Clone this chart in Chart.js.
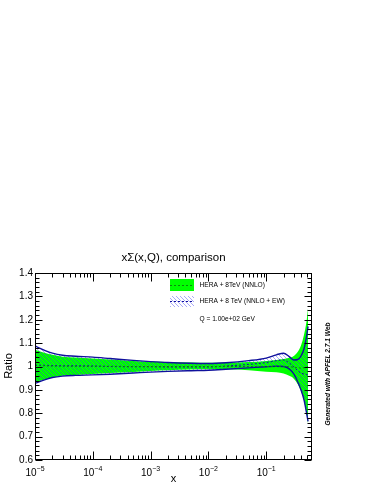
<!DOCTYPE html>
<html>
<head>
<meta charset="utf-8">
<script src="https://cdn.jsdelivr.net/npm/chart.js@4"></script>
<style>
  html, body { margin: 0; padding: 0; background: #fff; }
  #c { display: block; }
</style>
</head>
<body>
<canvas id="c" width="374" height="484"></canvas>
<script>
/* xΣ(x,Q) ratio comparison — APFEL style plot */
const xVals = [1e-5, 1.5e-5, 2e-5, 3e-5, 5e-5, 1e-4, 2e-4, 5e-4, 1e-3, 2e-3, 5e-3, 1e-2,
  2e-2, 5e-2, 0.1, 0.15, 0.2, 0.25, 0.3, 0.35, 0.4, 0.45, 0.5, 0.53];

// HERA + 8TeV (NNLO)
const nnloUp = [1.072, 1.058, 1.050, 1.042, 1.038, 1.034, 1.030, 1.024, 1.021, 1.019, 1.017, 1.016,
  1.016, 1.019, 1.024, 1.028, 1.032, 1.037, 1.045, 1.062, 1.090, 1.135, 1.195, 1.250];
const nnloLo = [0.932, 0.945, 0.953, 0.960, 0.964, 0.968, 0.972, 0.977, 0.981, 0.984, 0.987, 0.988,
  0.988, 0.984, 0.978, 0.975, 0.970, 0.960, 0.948, 0.925, 0.895, 0.855, 0.800, 0.755];
const nnloMid = [1.004, 1.003, 1.002, 1.002, 1.001, 1.001, 1.001, 1.000, 1.000, 1.000, 1.000, 1.000,
  1.000, 1.000, 1.000, 1.000, 1.000, 0.999, 0.997, 0.995, 0.993, 0.995, 0.996, 1.000];

// HERA + 8 TeV (NNLO + EW)
const ewUp = [1.088, 1.068, 1.057, 1.048, 1.044, 1.040, 1.034, 1.026, 1.021, 1.017, 1.014, 1.013,
  1.016, 1.025, 1.036, 1.050, 1.057, 1.042, 1.028, 1.030, 1.045, 1.075, 1.130, 1.172];
const ewLo = [0.928, 0.944, 0.953, 0.959, 0.962, 0.964, 0.967, 0.972, 0.976, 0.979, 0.982, 0.984,
  0.988, 0.994, 0.999, 1.001, 1.000, 0.990, 0.968, 0.935, 0.900, 0.858, 0.800, 0.765];
const ewMid = [1.006, 1.005, 1.004, 1.003, 1.003, 1.002, 1.000, 0.999, 0.999, 0.998, 0.998, 0.998,
  1.002, 1.009, 1.017, 1.025, 1.028, 1.015, 0.998, 0.982, 0.972, 0.968, 0.965, 0.968];

const yTicks = [0.6, 0.7, 0.8, 0.9, 1.0, 1.1, 1.2, 1.3, 1.4];
const xDecades = [-5, -4, -3, -2, -1];

const GREEN = "#00ff00", BLUE = "#10109c", DKGREEN = "#0a8a0a";
const FONT = "'Liberation Sans', Arial, Helvetica, sans-serif";

/* hatch pattern for the EW band */
function hatch() {
  const s = 4, c = document.createElement("canvas");
  c.width = s; c.height = s;
  const g = c.getContext("2d");
  g.strokeStyle = "rgba(50,50,240,0.7)";
  g.lineWidth = 0.6;
  g.beginPath();
  g.moveTo(0, 0); g.lineTo(s, s);
  g.moveTo(-1, s - 1); g.lineTo(1, s + 1);
  g.moveTo(s - 1, -1); g.lineTo(s + 1, 1);
  g.stroke();
  return g.createPattern(c, "repeat");
}
const pat = hatch();

const pts = arr => arr.map((v, i) => ({ x: xVals[i], y: v }));
const line = (data, extra) => Object.assign({
  data: pts(data), pointRadius: 0, borderWidth: 0, fill: false,
  cubicInterpolationMode: "monotone"
}, extra);

/* frame, inward ticks, texts and legend */
const decor = {
  id: "decor",
  afterDraw(chart) {
    const { ctx, chartArea: a, scales: { x, y } } = chart;
    ctx.save();
    ctx.strokeStyle = "#000";
    ctx.lineWidth = 1;
    const L = Math.round(a.left) + 0.5, R = Math.round(a.right) - 0.5;
    const T = Math.round(a.top) + 0.5, B = Math.round(a.bottom) - 0.5;
    ctx.strokeRect(L, T, R - L, B - T);

    ctx.beginPath();
    xDecades.forEach(d => {
      for (let m = 1; m <= 9; m++) {
        const v = m * Math.pow(10, d);
        if (v > x.max) break;
        const px = Math.round(x.getPixelForValue(v)) + 0.5;
        const len = m === 1 ? 8 : 4;
        ctx.moveTo(px, B); ctx.lineTo(px, B - len);
        ctx.moveTo(px, T); ctx.lineTo(px, T + len);
      }
    });
    for (let k = 0; k <= 40; k++) {
      const v = 0.6 + 0.02 * k;
      const py = Math.round(y.getPixelForValue(v)) + 0.5;
      const len = k % 5 === 0 ? 7 : 4;
      ctx.moveTo(L, py); ctx.lineTo(L + len, py);
      ctx.moveTo(R, py); ctx.lineTo(R - len, py);
    }
    ctx.stroke();

    ctx.fillStyle = "#000";
    // x tick labels 10^n
    xDecades.forEach(d => {
      const px = x.getPixelForValue(Math.pow(10, d));
      ctx.font = `10px ${FONT}`;
      const wb = ctx.measureText("10").width;
      ctx.font = `7px ${FONT}`;
      const sup = "\u2212" + (-d);
      const ws = ctx.measureText(sup).width;
      const x0 = px - (wb + ws) / 2;
      ctx.textAlign = "left";
      ctx.textBaseline = "alphabetic";
      ctx.font = `10px ${FONT}`;
      ctx.fillText("10", x0, 476);
      ctx.font = `7px ${FONT}`;
      ctx.fillText(sup, x0 + wb, 471);
    });

    // title and axis titles
    const cx = (a.left + a.right) / 2;
    ctx.textAlign = "center";
    ctx.font = `11.5px ${FONT}`;
    ctx.fillText("x\u03A3(x,Q), comparison", cx, 260.5);
    ctx.font = `11px ${FONT}`;
    ctx.fillText("x", cx, 482);
    ctx.save();
    ctx.translate(11.5, 366);
    ctx.rotate(-Math.PI / 2);
    ctx.fillText("Ratio", 0, 0);
    ctx.restore();

    // side label
    ctx.save();
    ctx.translate(329.5, 374);
    ctx.rotate(-Math.PI / 2);
    ctx.font = `italic bold 6.6px ${FONT}`;
    ctx.fillText("Generated with APFEL 2.7.1 Web", 0, 0);
    ctx.restore();

    // legend
    ctx.fillStyle = GREEN;
    ctx.fillRect(170, 279, 24, 12);
    ctx.fillStyle = pat;
    ctx.fillRect(170, 296, 24, 11);
    ctx.lineWidth = 1;
    ctx.setLineDash([2, 2]);
    ctx.strokeStyle = DKGREEN;
    ctx.beginPath(); ctx.moveTo(170, 285.5); ctx.lineTo(194, 285.5); ctx.stroke();
    ctx.strokeStyle = BLUE;
    ctx.beginPath(); ctx.moveTo(170, 301.5); ctx.lineTo(194, 301.5); ctx.stroke();
    ctx.setLineDash([]);

    ctx.fillStyle = "#000";
    ctx.textAlign = "left";
    ctx.textBaseline = "middle";
    ctx.font = `6.6px ${FONT}`;
    ctx.fillText("HERA + 8TeV (NNLO)", 199.5, 285);
    ctx.fillText("HERA + 8 TeV (NNLO + EW)", 199.5, 301.5);
    ctx.fillText("Q = 1.00e+02 GeV", 199.5, 319);
    ctx.restore();
  }
};

new Chart(document.getElementById("c"), {
  type: "line",
  data: {
    datasets: [
      line(nnloUp, { fill: "+1", backgroundColor: GREEN, order: 3 }),
      line(nnloLo, { order: 3 }),
      line(ewUp, { fill: "+1", backgroundColor: pat, borderColor: BLUE, borderWidth: 1.4, order: 2 }),
      line(ewLo, { borderColor: BLUE, borderWidth: 1.4, order: 2 }),
      line(nnloMid, { borderColor: DKGREEN, borderWidth: 1, borderDash: [2, 2], order: 1 }),
      line(ewMid, { borderColor: BLUE, borderWidth: 1, borderDash: [2, 2], order: 1 })
    ]
  },
  options: {
    responsive: false,
    animation: false,
    devicePixelRatio: 1,
    layout: { padding: { top: 273, right: 62, left: 0, bottom: 0 } },
    plugins: {
      legend: { display: false },
      title: { display: false },
      tooltip: { enabled: false },
      filler: { drawTime: "beforeDatasetsDraw" }
    },
    scales: {
      x: {
        type: "logarithmic", min: 1e-5, max: 0.62,
        grid: { display: false }, border: { display: false },
        ticks: { display: false },
        afterFit: s => { s.height = 24; }
      },
      y: {
        type: "linear", min: 0.6, max: 1.4,
        grid: { display: false, drawTicks: false }, border: { display: false },
        afterBuildTicks: s => { s.ticks = yTicks.map(v => ({ value: v })); },
        ticks: {
          padding: 2, color: "#000",
          font: { family: FONT, size: 10 },
          callback: v => Math.abs(v - 1) < 1e-9 ? "1" : v.toFixed(1)
        },
        afterFit: s => { s.width = 35; }
      }
    }
  },
  plugins: [decor]
});
</script>
</body>
</html>
